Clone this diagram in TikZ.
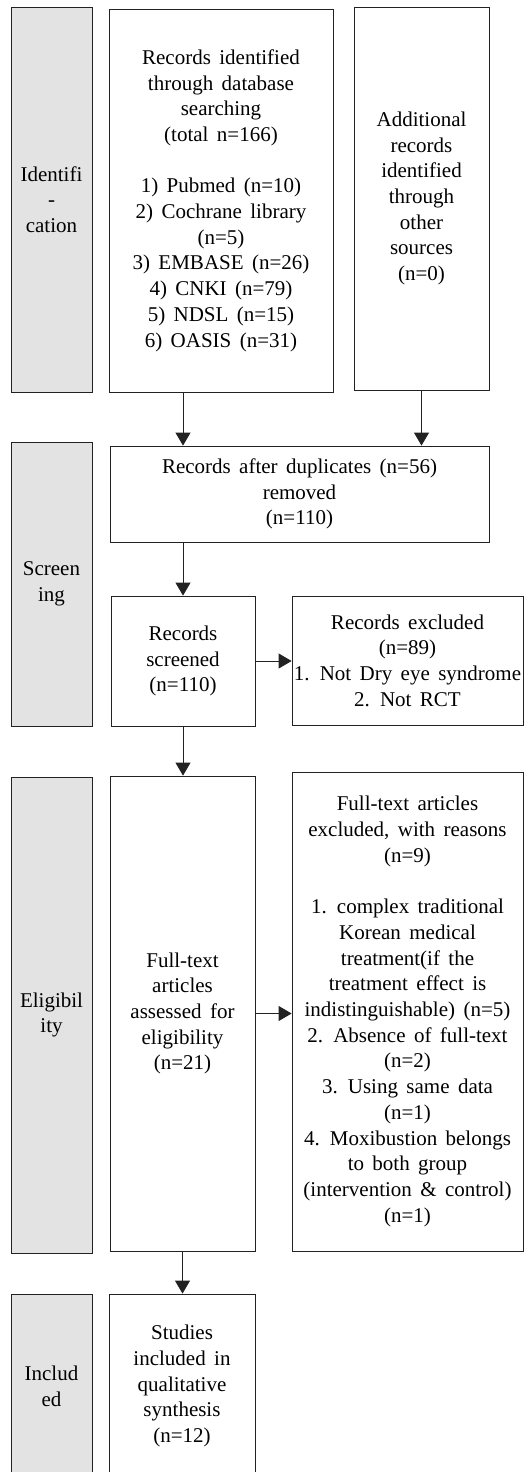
\documentclass[tikz,border=0pt]{standalone}
\usepackage{fontspec}
\setmainfont{Liberation Serif}[WordSpace=1.6]
\usetikzlibrary{arrows.meta}
\definecolor{stagegray}{HTML}{E3E3E3}
\definecolor{edge}{HTML}{222222}
\begin{document}
\begin{tikzpicture}[x=1pt,y=-1pt,
  font=\fontsize{21}{25.7}\selectfont,
  stage/.style={draw=edge, fill=stagegray, line width=0.8pt, align=center, inner sep=0pt, minimum width=81pt},
  box/.style={draw=edge, fill=white, line width=0.8pt, align=center, inner sep=0pt},
  arr/.style={-{Triangle[length=13pt,width=15pt]}, line width=0.8pt, draw=edge}]
\useasboundingbox (0,0) rectangle (532,1472);

% stage labels
\node[stage, minimum height=385pt] (gId) at (51.5,199.5) {Identifi\\-\\cation};
\node[stage, minimum height=284pt] (gScr) at (51.5,584) {Screen\\ing};
\node[stage, minimum height=476pt] (gElig) at (51.5,1015) {Eligibil\\ity};
\node[stage, minimum height=184pt] (gInc) at (51.5,1386) {Includ\\ed};

% boxes
\node[box, minimum width=224pt, minimum height=383pt] (db) at (221,200.5)
  {Records identified\\through database\\searching\\(total n=166)\\[25.7pt]
   1) Pubmed (n=10)\\2) Cochrane library\\(n=5)\\3) EMBASE (n=26)\\4) CNKI (n=79)\\5) NDSL (n=15)\\6) OASIS (n=31)};
\node[box, minimum width=135pt, minimum height=383pt] (add) at (421.5,198.5)
  {Additional\\records\\identified\\through\\other\\sources\\(n=0)};
\node[box, minimum width=379pt, minimum height=96pt] (dup) at (299.5,494)
  {Records after duplicates (n=56)\\removed\\(n=110)};
\node[box, minimum width=144pt, minimum height=130pt] (scr) at (183,661)
  {Records\\screened\\(n=110)};
\node[box, minimum width=231pt, minimum height=129pt] (exc) at (407.5,660.5)
  {Records excluded\\(n=89)\\1. Not Dry eye syndrome\\2. Not RCT};
\node[box, minimum width=145pt, minimum height=475pt] (ft) at (182.5,1013.5)
  {Full-text\\articles\\assessed for\\eligibility\\(n=21)};
\node[box, minimum width=231pt, minimum height=479pt] (ftx) at (407.5,1011.5)
  {Full-text articles\\excluded, with reasons\\(n=9)\\[25.7pt]
   1. complex traditional\\Korean medical\\treatment(if the\\treatment effect is\\indistinguishable) (n=5)\\
   2. Absence of full-text\\(n=2)\\3. Using same data\\(n=1)\\4. Moxibustion belongs\\to both group\\(intervention \& control)\\(n=1)};
\node[box, minimum width=146pt, minimum height=184pt] (stud) at (182,1386)
  {Studies\\included in\\qualitative\\synthesis\\(n=12)};

% connectors
\draw[arr] (scr.north |- db.south) -- (scr.north |- dup.north);
\draw[arr] (add.south) -- (add.south |- dup.north);
\draw[arr] (scr.north |- dup.south) -- (scr.north);
\draw[arr] (scr.east) -- (exc.west |- scr.east);
\draw[arr] (scr.south) -- (scr.south |- ft.north);
\draw[arr] (ft.east) -- (ftx.west |- ft.east);
\draw[arr] (ft.south) -- (ft.south |- stud.north);
\end{tikzpicture}
\end{document}
